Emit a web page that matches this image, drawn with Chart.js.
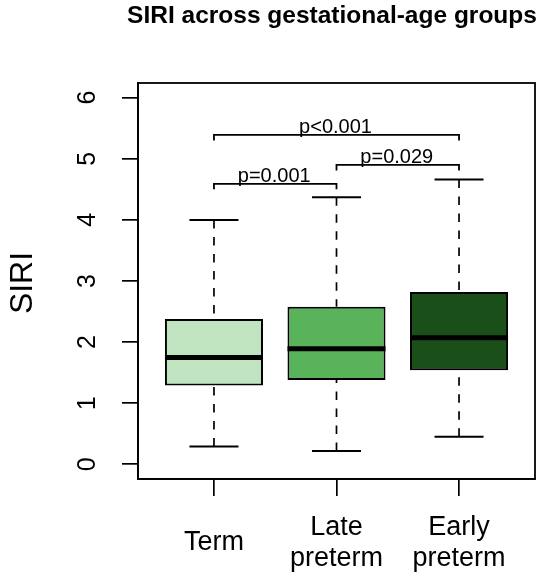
<!DOCTYPE html>
<html>
<head>
<meta charset="utf-8">
<script src="https://cdn.jsdelivr.net/npm/chart.js@4.4.1/dist/chart.umd.min.js"></script>
<style>
  html, body { margin: 0; padding: 0; background: #fff; }
  #wrap { width: 550px; height: 578px; }
</style>
</head>
<body>
<div id="wrap"><canvas id="myChart" width="550" height="578"></canvas></div>
<script>
let groups = [['Term'], ['Late', 'preterm'], ['Early', 'preterm']];
let whiskerLow = [0.29, 0.22, 0.45];
let q1 = [1.29, 1.38, 1.54];
let medians = [1.75, 1.89, 2.07];
let q3 = [2.38, 2.58, 2.82];
let whiskerHigh = [4.0, 4.37, 4.66];
let boxColors = ['#c0e4bf', '#59b35a', '#1b4f1a'];
let yTicks = [0, 1, 2, 3, 4, 5, 6];

// pairwise comparisons (group numbers, bracket height, text)
let pFrom = [1, 2, 1];
let pTo = [2, 3, 3];
let pHeight = [4.59, 4.9, 5.39];
let pLabels = ['p=0.001', 'p=0.029', 'p<0.001'];

const FONT = '"Liberation Sans", Arial, sans-serif';

const boxExtras = {
    id: 'boxExtras',
    afterDatasetsDraw(chart) {
        const ctx = chart.ctx;
        const xs = chart.scales.x;
        const ys = chart.scales.y;
        const area = chart.chartArea;
        ctx.save();
        ctx.strokeStyle = '#000';
        ctx.lineCap = 'butt';
        for (let i = 0; i < groups.length; i++) {
            const cx = xs.getPixelForValue(i + 1);
            // whiskers
            ctx.lineWidth = 1.7;
            ctx.setLineDash([8.5, 8.5]);
            ctx.beginPath();
            ctx.moveTo(cx, ys.getPixelForValue(whiskerHigh[i]));
            ctx.lineTo(cx, ys.getPixelForValue(q3[i]));
            ctx.moveTo(cx, ys.getPixelForValue(whiskerLow[i]));
            ctx.lineTo(cx, ys.getPixelForValue(q1[i]));
            ctx.stroke();
            ctx.setLineDash([]);
            // caps
            ctx.lineWidth = 2;
            ctx.beginPath();
            ctx.moveTo(xs.getPixelForValue(i + 0.8), ys.getPixelForValue(whiskerHigh[i]));
            ctx.lineTo(xs.getPixelForValue(i + 1.2), ys.getPixelForValue(whiskerHigh[i]));
            ctx.moveTo(xs.getPixelForValue(i + 0.8), ys.getPixelForValue(whiskerLow[i]));
            ctx.lineTo(xs.getPixelForValue(i + 1.2), ys.getPixelForValue(whiskerLow[i]));
            ctx.stroke();
            // median
            ctx.lineWidth = 5;
            ctx.beginPath();
            ctx.moveTo(xs.getPixelForValue(i + 0.6), ys.getPixelForValue(medians[i]));
            ctx.lineTo(xs.getPixelForValue(i + 1.4), ys.getPixelForValue(medians[i]));
            ctx.stroke();
        }
        // brackets
        ctx.lineWidth = 1.8;
        ctx.fillStyle = '#000';
        ctx.font = '20px ' + FONT;
        ctx.textAlign = 'center';
        ctx.textBaseline = 'alphabetic';
        for (let k = 0; k < pLabels.length; k++) {
            const x1 = xs.getPixelForValue(pFrom[k]);
            const x2 = xs.getPixelForValue(pTo[k]);
            const yb = ys.getPixelForValue(pHeight[k]);
            const yd = ys.getPixelForValue(pHeight[k] - 0.09);
            ctx.beginPath();
            ctx.moveTo(x1, yd);
            ctx.lineTo(x1, yb);
            ctx.lineTo(x2, yb);
            ctx.lineTo(x2, yd);
            ctx.stroke();
            ctx.fillText(pLabels[k], (x1 + x2) / 2 - 1, yb - 2);
        }
        // frame
        ctx.lineWidth = 1.8;
        ctx.strokeRect(area.left, area.top, area.right - area.left, area.bottom - area.top);
        ctx.restore();
    },
    afterDraw(chart) {
        const ctx = chart.ctx;
        const xs = chart.scales.x;
        const ys = chart.scales.y;
        const area = chart.chartArea;
        ctx.save();
        ctx.fillStyle = '#000';
        // title
        ctx.font = 'bold 24.5px ' + FONT;
        ctx.textAlign = 'center';
        ctx.textBaseline = 'alphabetic';
        ctx.fillText('SIRI across gestational-age groups', 332, 23);
        // x labels
        ctx.font = '27px ' + FONT;
        for (let i = 0; i < groups.length; i++) {
            const cx = xs.getPixelForValue(i + 1);
            const lines = groups[i];
            const start = 550 - (lines.length - 1) * 31 / 2;
            lines.forEach((t, j) => ctx.fillText(t, cx, start + j * 31));
        }
        // y tick labels, parallel to the axis
        ctx.font = '25px ' + FONT;
        yTicks.forEach(v => {
            ctx.save();
            ctx.translate(95, ys.getPixelForValue(v));
            ctx.rotate(-Math.PI / 2);
            ctx.fillText(String(v), 0, 0);
            ctx.restore();
        });
        // y axis title
        ctx.font = '32px ' + FONT;
        ctx.save();
        ctx.translate(32, (area.top + area.bottom) / 2 + 2);
        ctx.rotate(-Math.PI / 2);
        ctx.fillText('SIRI', 0, 0);
        ctx.restore();
        ctx.restore();
    }
};

new Chart('myChart', {
    type: 'bar',
    data: {
        datasets: [{
            data: groups.map((g, i) => ({x: i + 1, y: [q1[i], q3[i]]})),
            backgroundColor: boxColors,
            borderColor: '#000',
            borderWidth: 2,
            borderSkipped: false,
            barPercentage: 0.8,
            categoryPercentage: 1
        }]
    },
    options: {
        responsive: false,
        devicePixelRatio: 1,
        animation: false,
        layout: {padding: {left: 122, right: 15, top: 83, bottom: 82}},
        plugins: {legend: {display: false}, tooltip: {enabled: false}},
        scales: {
            x: {
                type: 'linear',
                min: 0.38,
                max: 3.62,
                offset: false,
                afterBuildTicks: s => { s.ticks = [1, 2, 3].map(v => ({value: v})); },
                ticks: {display: false},
                grid: {offset: false, drawOnChartArea: false, drawTicks: true, tickLength: 17, color: '#000', lineWidth: 1.7},
                border: {display: true, color: '#000', width: 1.8}
            },
            y: {
                type: 'linear',
                min: -0.24,
                max: 6.24,
                afterBuildTicks: s => { s.ticks = yTicks.map(v => ({value: v})); },
                ticks: {display: false},
                grid: {drawOnChartArea: false, drawTicks: true, tickLength: 16, color: '#000', lineWidth: 1.7},
                border: {display: true, color: '#000', width: 1.8}
            }
        }
    },
    plugins: [boxExtras]
});
</script>
</body>
</html>
